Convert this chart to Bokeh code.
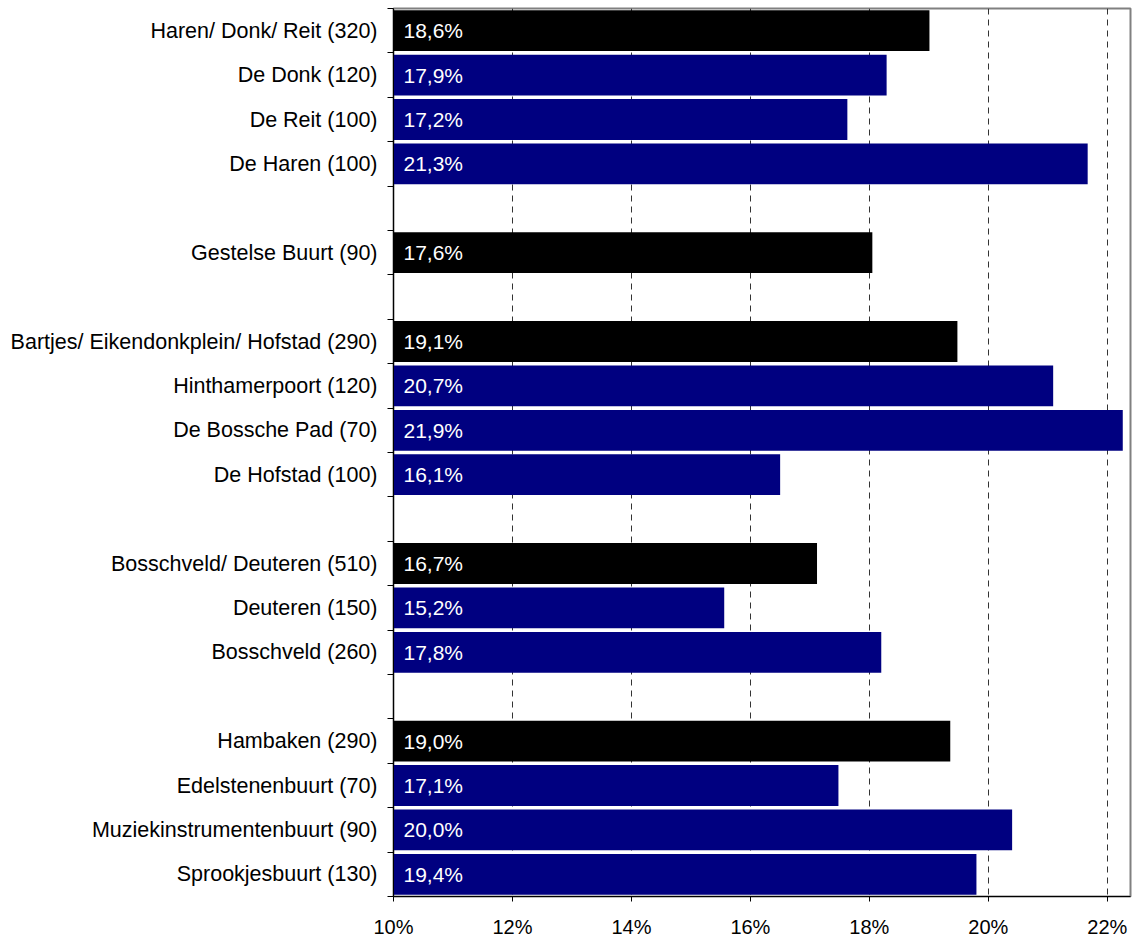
from bokeh.plotting import figure
from bokeh.models import Range1d, FixedTicker, ColumnDataSource
from bokeh.core.properties import value
from bokeh.embed import file_html
from bokeh.resources import INLINE

# ---- data ----
names = [
    "Haren/ Donk/ Reit (320)", "De Donk (120)", "De Reit (100)", "De Haren (100)",
    "Gestelse Buurt (90)",
    "Bartjes/ Eikendonkplein/ Hofstad (290)", "Hinthamerpoort (120)", "De Bossche Pad (70)", "De Hofstad (100)",
    "Bosschveld/ Deuteren (510)", "Deuteren (150)", "Bosschveld (260)",
    "Hambaken (290)", "Edelstenenbuurt (70)", "Muziekinstrumentenbuurt (90)", "Sprookjesbuurt (130)",
]
group_id = [0, 0, 0, 0, 1, 2, 2, 2, 2, 3, 3, 3, 4, 4, 4, 4]
is_total = [1, 0, 0, 0, 1, 1, 0, 0, 0, 1, 0, 0, 1, 0, 0, 0]
bar_values = [19.01, 18.29, 17.63, 21.67, 18.05, 19.48, 21.09, 22.26, 16.50,
              17.12, 15.56, 18.20, 19.36, 17.48, 20.40, 19.80]
value_labels = ["18,6%", "17,9%", "17,2%", "21,3%", "17,6%", "19,1%", "20,7%", "21,9%", "16,1%",
                "16,7%", "15,2%", "17,8%", "19,0%", "17,1%", "20,0%", "19,4%"]
x_ticks = [10, 12, 14, 16, 18, 20, 22]
x_tick_labels = ["10%", "12%", "14%", "16%", "18%", "20%", "22%"]
x_min, x_max = 10, 22.39

# ---- row layout: one blank row between groups ----
rows = []
r = 0
prev = group_id[0]
for g in group_id:
    if g != prev:
        r += 1
        prev = g
    rows.append(r)
    r += 1
n_rows = r
centers = [rr + 0.5 for rr in rows]

FONT = "Liberation Sans"

p = figure(
    output_backend="svg", toolbar_location=None,
    frame_width=737, frame_height=888,
    min_border_left=393, min_border_right=4, min_border_top=8, min_border_bottom=42,
    x_range=Range1d(x_min, x_max), y_range=Range1d(n_rows, 0),
)
p.background_fill_color = "white"
p.border_fill_color = "white"
p.outline_line_color = "#808080"
p.outline_line_width = 2

src = ColumnDataSource(dict(
    y=centers, right=bar_values, left=[x_min] * len(bar_values),
    color=["#000000" if t else "#000080" for t in is_total],
    lab=value_labels,
))
p.hbar(y="y", left="left", right="right", height=0.92, color="color", line_color=None, source=src)
p.text(x="left", y="y", text="lab", source=src, x_offset=10,
       text_align="left", text_baseline="middle", text_color="white",
       text_font=value(FONT), text_font_size="21px")

# grid
p.ygrid.visible = False
p.xgrid.ticker = FixedTicker(ticks=x_ticks[1:])
p.xgrid.grid_line_color = "#333333"
p.xgrid.grid_line_dash = "6 5"
p.xgrid.grid_line_width = 1

# x axis
xa = p.xaxis[0]
xa.ticker = FixedTicker(ticks=x_ticks)
xa.major_label_overrides = {t: l for t, l in zip(x_ticks, x_tick_labels)}
xa.major_tick_out = 5
xa.major_tick_in = 0
xa.minor_tick_out = 0
xa.minor_tick_in = 0
xa.axis_line_color = "black"
xa.major_tick_line_color = "black"
xa.major_label_text_font = FONT
xa.major_label_text_font_size = "20px"
xa.major_label_text_color = "black"
xa.major_label_standoff = 14

# y axis
ya = p.yaxis[0]
ya.ticker = FixedTicker(ticks=centers, minor_ticks=list(range(n_rows + 1)))
ya.major_label_overrides = {c: nm for c, nm in zip(centers, names)}
ya.major_tick_out = 0
ya.major_tick_in = 0
ya.minor_tick_out = 6
ya.minor_tick_in = 0
ya.minor_tick_line_color = "black"
ya.axis_line_color = "black"
ya.major_label_text_font = FONT
ya.major_label_text_font_size = "21.5px"
ya.major_label_text_color = "black"
ya.major_label_standoff = 10

open("out.html", "w").write(file_html(p, INLINE))
